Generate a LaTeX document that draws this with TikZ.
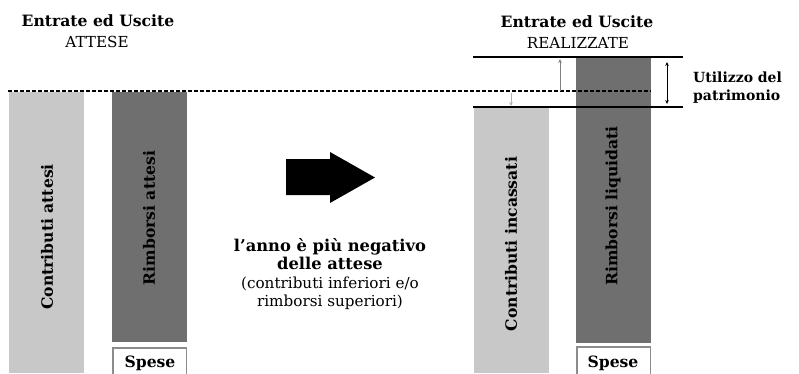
\documentclass[tikz,border=0pt]{standalone}
\usepackage{fontspec}
\setmainfont{DejaVu Serif}
\usepackage{tikz}
\usetikzlibrary{arrows.meta}
\definecolor{entrata}{HTML}{C8C8C8}
\definecolor{uscita}{HTML}{6F6F6F}
\definecolor{bordo}{HTML}{8C8C8C}

\begin{document}
\begin{tikzpicture}[x=1pt,y=-1pt,
        font=\fontsize{15.2}{18.5}\selectfont,
        every node/.style={inner sep=0pt},
        grassetto/.style={font=\fontsize{15.6}{18}\selectfont\bfseries},
        colonna/.style={rotate=90,grassetto},
        spesebox/.style={draw=bordo,line width=1.5pt,fill=white},
        freccina/.style={-{Stealth[length=4pt,width=3.5pt]},line width=1pt},
        livello/.style={line width=1.5pt}]
        \useasboundingbox (0,0) rectangle (799,373);
        \fill[entrata] (9,92) rectangle (84,373);
        \fill[uscita] (112,92) rectangle (187,342);
        \draw[spesebox] (112.75,347.75) rectangle (186.25,380);
        \fill[entrata] (474,108) rectangle (549,373);
        \fill[uscita] (576,57) rectangle (651,343);
        \draw[spesebox] (576.75,346.75) rectangle (650.25,380);
        \draw[line width=1.2pt, dash pattern=on 3.5pt off 2.5pt] (8,91) -- (651,91);
        \draw[livello] (473,57) -- (683,57);
        \draw[livello] (473,107) -- (683,107);
        \node[anchor=base, grassetto] (titoloA) at (98,26) {Entrate ed Uscite};
        \node[anchor=base] (attese) at (97,47) {ATTESE};
        \node[anchor=base, grassetto] (titoloB) at (577,27) {Entrate ed Uscite};
        \node[anchor=base] (realizzate) at (578,48) {REALIZZATE};
        \node[colonna] (contrA) at (47,237) {Contributi attesi};
        \node[colonna] (rimbA) at (149,218) {Rimborsi attesi};
        \node[colonna] (contrB) at (511,244) {Contributi incassati};
        \node[colonna] (rimbB) at (613,206) {Rimborsi liquidati};
        \node[anchor=base, grassetto] (speseA) at (150,367) {Spese};
        \node[anchor=base, grassetto] (speseB) at (613,367) {Spese};
        \node[anchor=base west, font=\fontsize{14}{18}\selectfont\bfseries] (util1) at (693,82) {Utilizzo del};
        \node[anchor=base west, font=\fontsize{14}{18}\selectfont\bfseries] (util2) at (693,100) {patrimonio};
        \node[align=center] (anno) at (330,274)
            {{\fontsize{16.3}{18.5}\selectfont\bfseries l’anno è più negativo}\\{\fontsize{16.3}{18.5}\selectfont\bfseries delle attese}\\(contributi inferiori e/o\\rimborsi superiori)};
        \fill (286,159) -- (330,159) -- (330,152) -- (375,177.5) -- (330,203) -- (330,195) -- (286,195) -- cycle;
        \coordinate (su0) at (560,91);
        \coordinate (su1) at (560,59);
        \coordinate (giu0) at (511,93);
        \coordinate (giu1) at (511,106);
        \coordinate (pat0) at (667,62);
        \coordinate (pat1) at (667,104);
        \draw[freccina, gray] (su0) -- (su1);
        \draw[freccina, black!30] (giu0) -- (giu1);
        \draw[freccina, {Stealth[length=4pt,width=3.5pt]}-{Stealth[length=4pt,width=3.5pt]}] (pat0) -- (pat1);
\end{tikzpicture}
\end{document}
